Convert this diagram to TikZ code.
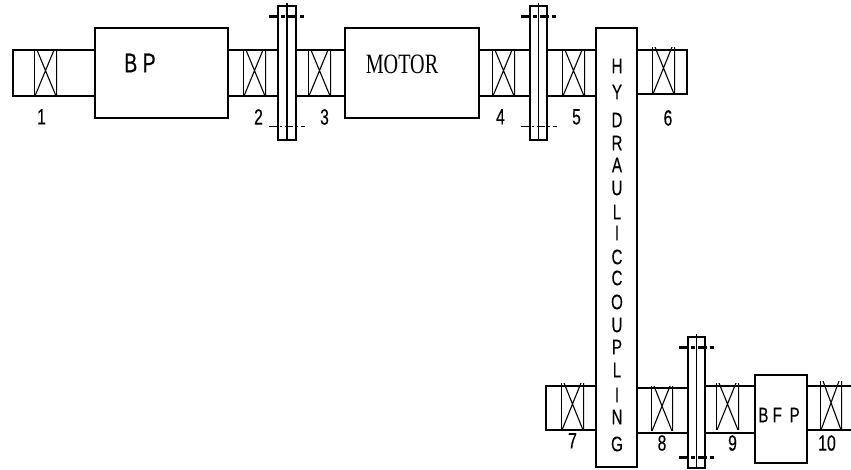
\documentclass[tikz,border=0pt]{standalone}
\usepackage{xcolor}
\usepackage{fontspec}
\usetikzlibrary{calc, positioning}
\newfontfamily\partfont[FakeStretch=0.72,FakeBold=0.3]{Liberation Sans}
\newfontfamily\motorfont[FakeStretch=0.72]{Liberation Serif}
\tikzset{
        block/.style = {draw, rectangle, line width=1.3pt, inner sep=0pt, outer sep=0pt,
            minimum height=90pt,
            minimum width=134pt},
        shaft/.style = {block, minimum height=46pt, minimum width=50pt},
        bearing/.style = {rectangle, inner sep=0pt, outer sep=0pt, minimum height=46pt, minimum width=23pt,
            path picture={\draw [line width=1.1pt]
                ($(path picture bounding box.north west)+(3pt,0)$) -- ($(path picture bounding box.south east)+(-1pt,0)$)
                ($(path picture bounding box.north east)+(-3pt,0)$) -- ($(path picture bounding box.south west)+(1pt,0)$);
                \draw [line width=2.8pt] (path picture bounding box.north west) -- (path picture bounding box.south west)
                (path picture bounding box.north east) -- (path picture bounding box.south east);}},
        coupling/.style = {block, minimum height=134pt, minimum width=18pt},
        number/.style = {font=\partfont\fontsize{22}{22}\selectfont, inner sep=0pt},
        letter/.style = {font=\partfont\fontsize{21}{21}\selectfont, inner sep=0pt},
        topdash/.style = {line width=3pt, dash pattern=on 9pt off 3pt on 4pt off 3pt},
        lowdash/.style = {line width=1pt, dash pattern=on 8pt off 3pt on 2pt off 3pt},
}
\begin{document}
\begin{tikzpicture}[x=1pt, y=-1pt]
\useasboundingbox (0,0) rectangle (851,469);
% top row
\node [shaft, minimum width=82pt, anchor=west] (shaftA) at (13,73) {};
\node [block, minimum width=133pt, right=0pt of shaftA] (bp) {};
\node [letter, font=\partfont\fontsize{27}{27}\selectfont] (bptext) at (140,63) {B P};
\node [shaft, right=0pt of bp] (shaftB) {};
\node [coupling, right=0pt of shaftB] (cplA) {};
\node [shaft, minimum width=49pt, right=0pt of cplA] (shaftC) {};
\node [block, right=0pt of shaftC] (motor) {};
\node [font=\motorfont\fontsize{28}{28}\selectfont, inner sep=0pt] (motortext) at (402,64) {MOTOR};
\node [shaft, minimum width=51pt, right=0pt of motor] (shaftD) {};
\node [coupling, minimum width=17pt, right=0pt of shaftD] (cplB) {};
\node [shaft, minimum width=49pt, right=0pt of cplB] (shaftE) {};
\node [block, minimum width=41pt, minimum height=439pt, anchor=north west] (hyd) at (596,28) {};
\node [shaft, minimum height=44pt, anchor=west] (shaftF) at (637,72) {};
% bottom row
\node [shaft, minimum height=44pt, anchor=east] (shaftG) at (596,408) {};
\node [shaft, minimum height=45pt, minimum width=51pt, anchor=west] (shaftH) at (637,410.5) {};
\node [coupling, minimum width=17pt, minimum height=131pt, anchor=north west] (cplC) at (688,337) {};
\node [shaft, minimum height=47pt, anchor=west] (shaftI) at (705,409.5) {};
\node [block, minimum width=52pt, minimum height=88pt, anchor=north west] (bfp) at (755,375) {};
\node [shaft, minimum height=44pt, minimum width=46pt, anchor=west] (shaftJ) at (807,408) {};
\node [letter] (bfptext) at (779,415) {B F\, P};
% bearings
\node [bearing, right=21pt of shaftA.west] (brgA) {};
\node [bearing, right=15pt of shaftB.west] (brgB) {};
\node [bearing, right=12pt of shaftC.west] (brgC) {};
\node [bearing, right=13pt of shaftD.west] (brgD) {};
\node [bearing, right=15pt of shaftE.west] (brgE) {};
\node [bearing, minimum height=47pt, right=15pt of shaftF.west, yshift=1.5pt] (brgF) {};
\node [bearing, minimum height=47pt, right=15pt of shaftG.west, yshift=1.5pt] (brgG) {};
\node [bearing, minimum width=22pt, minimum height=45pt, right=14pt of shaftH.west, yshift=2pt] (brgH) {};
\node [bearing, minimum height=47pt, right=11pt of shaftI.west, yshift=3pt] (brgI) {};
\node [bearing, minimum width=22pt, minimum height=49pt, right=13pt of shaftJ.west, yshift=2.5pt] (brgJ) {};
% couplings
\foreach \cpl/\sty in {cplA/lowdash, cplB/lowdash, cplC/topdash} {
    \draw [line width=1.3pt] ($(\cpl.north)+(0,-3)$) -- (\cpl.south);
    \draw [topdash] ($(\cpl.north)+(-18,10)$) -- ($(\cpl.north)+(18,10)$);
    \draw [\sty] ($(\cpl.north)+(-18,120)$) -- ($(\cpl.north)+(18,120)$);
}
% numbers
\node [number, below=13pt of brgA, xshift=-4pt] (numA) {1};
\node [number, below=13pt of brgB, xshift=4pt] (numB) {2};
\node [number, below=13pt of brgC, xshift=5pt] (numC) {3};
\node [number, below=13pt of brgD, xshift=-3pt] (numD) {4};
\node [number, below=13pt of brgE, xshift=3pt] (numE) {5};
\node [number, below=16pt of brgF, xshift=4.5pt] (numF) {6};
\node [number, below=3pt of brgG] (numG) {7};
\node [number, below=4pt of brgH] (numH) {8};
\node [number, below=5pt of brgI, xshift=5pt] (numI) {9};
\node [number, below=5pt of brgJ, xshift=-4pt] (numJ) {10};
% coupling text
\foreach \ch/\yy in {H/66, Y/92, D/120, R/143, A/165, U/188, L/212, I/233, C/257, C/278, O/302, U/325, P/347, L/370, I/395, N/417, G/444} {
    \node [letter] (ch\yy) at (617,\yy) {\ch};
}
\end{tikzpicture}
\end{document}
